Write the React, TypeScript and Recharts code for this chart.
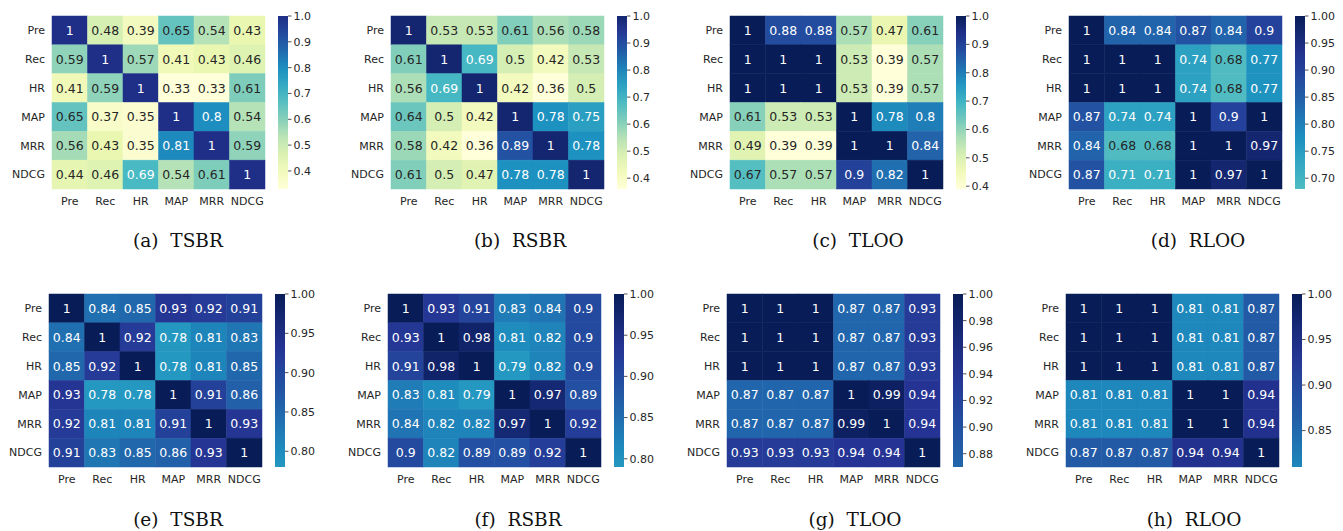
import React from 'react';
import { ScatterChart, Scatter, ComposedChart, XAxis, YAxis, ReferenceArea } from 'recharts';

const labels = ['Pre', 'Rec', 'HR', 'MAP', 'MRR', 'NDCG'];

// top row
const tsbrTop = [
  [1, 0.48, 0.39, 0.65, 0.54, 0.43],
  [0.59, 1, 0.57, 0.41, 0.43, 0.46],
  [0.41, 0.59, 1, 0.33, 0.33, 0.61],
  [0.65, 0.37, 0.35, 1, 0.8, 0.54],
  [0.56, 0.43, 0.35, 0.81, 1, 0.59],
  [0.44, 0.46, 0.69, 0.54, 0.61, 1],
];
const rsbrTop = [
  [1, 0.53, 0.53, 0.61, 0.56, 0.58],
  [0.61, 1, 0.69, 0.5, 0.42, 0.53],
  [0.56, 0.69, 1, 0.42, 0.36, 0.5],
  [0.64, 0.5, 0.42, 1, 0.78, 0.75],
  [0.58, 0.42, 0.36, 0.89, 1, 0.78],
  [0.61, 0.5, 0.47, 0.78, 0.78, 1],
];
const tlooTop = [
  [1, 0.88, 0.88, 0.57, 0.47, 0.61],
  [1, 1, 1, 0.53, 0.39, 0.57],
  [1, 1, 1, 0.53, 0.39, 0.57],
  [0.61, 0.53, 0.53, 1, 0.78, 0.8],
  [0.49, 0.39, 0.39, 1, 1, 0.84],
  [0.67, 0.57, 0.57, 0.9, 0.82, 1],
];
const rlooTop = [
  [1, 0.84, 0.84, 0.87, 0.84, 0.9],
  [1, 1, 1, 0.74, 0.68, 0.77],
  [1, 1, 1, 0.74, 0.68, 0.77],
  [0.87, 0.74, 0.74, 1, 0.9, 1],
  [0.84, 0.68, 0.68, 1, 1, 0.97],
  [0.87, 0.71, 0.71, 1, 0.97, 1],
];

// bottom row
const tsbrBottom = [
  [1, 0.84, 0.85, 0.93, 0.92, 0.91],
  [0.84, 1, 0.92, 0.78, 0.81, 0.83],
  [0.85, 0.92, 1, 0.78, 0.81, 0.85],
  [0.93, 0.78, 0.78, 1, 0.91, 0.86],
  [0.92, 0.81, 0.81, 0.91, 1, 0.93],
  [0.91, 0.83, 0.85, 0.86, 0.93, 1],
];
const rsbrBottom = [
  [1, 0.93, 0.91, 0.83, 0.84, 0.9],
  [0.93, 1, 0.98, 0.81, 0.82, 0.9],
  [0.91, 0.98, 1, 0.79, 0.82, 0.9],
  [0.83, 0.81, 0.79, 1, 0.97, 0.89],
  [0.84, 0.82, 0.82, 0.97, 1, 0.92],
  [0.9, 0.82, 0.89, 0.89, 0.92, 1],
];
const tlooBottom = [
  [1, 1, 1, 0.87, 0.87, 0.93],
  [1, 1, 1, 0.87, 0.87, 0.93],
  [1, 1, 1, 0.87, 0.87, 0.93],
  [0.87, 0.87, 0.87, 1, 0.99, 0.94],
  [0.87, 0.87, 0.87, 0.99, 1, 0.94],
  [0.93, 0.93, 0.93, 0.94, 0.94, 1],
];
const rlooBottom = [
  [1, 1, 1, 0.81, 0.81, 0.87],
  [1, 1, 1, 0.81, 0.81, 0.87],
  [1, 1, 1, 0.81, 0.81, 0.87],
  [0.81, 0.81, 0.81, 1, 1, 0.94],
  [0.81, 0.81, 0.81, 1, 1, 0.94],
  [0.87, 0.87, 0.87, 0.94, 0.94, 1],
];

const ticksA = [0.4, 0.5, 0.6, 0.7, 0.8, 0.9, 1.0];
const ticksD = [0.7, 0.75, 0.8, 0.85, 0.9, 0.95, 1.0];
const ticksEF = [0.8, 0.85, 0.9, 0.95, 1.0];
const ticksG = [0.88, 0.9, 0.92, 0.94, 0.96, 0.98, 1.0];
const ticksH = [0.85, 0.9, 0.95, 1.0];

const captions = ['(a)\u00a0\u00a0TSBR', '(b)\u00a0\u00a0RSBR', '(c)\u00a0\u00a0TLOO', '(d)\u00a0\u00a0RLOO', '(e)\u00a0\u00a0TSBR', '(f)\u00a0\u00a0RSBR', '(g)\u00a0\u00a0TLOO', '(h)\u00a0\u00a0RLOO'];

// YlGnBu
const cmap = ['#ffffd9', '#edf8b1', '#c7e9b4', '#7fcdbb', '#41b6c4', '#1d91c0', '#225ea8', '#253494', '#081d58'];

const hex = (h: string) => [1, 3, 5].map((i) => parseInt(h.slice(i, i + 2), 16));

function rgbAt(t: number) {
  const tt = Math.max(0, Math.min(1, t)) * (cmap.length - 1);
  const i = Math.min(cmap.length - 2, Math.floor(tt));
  const f = tt - i;
  const a = hex(cmap[i]);
  const b = hex(cmap[i + 1]);
  return a.map((v, k) => v + (b[k] - v) * f);
}

function ylgnbu(t: number) {
  const c = rgbAt(t).map(Math.round);
  return `rgb(${c[0]},${c[1]},${c[2]})`;
}

function textColor(t: number) {
  const lin = rgbAt(t).map((v) => {
    const s = v / 255;
    return s <= 0.03928 ? s / 12.92 : Math.pow((s + 0.055) / 1.055, 2.4);
  });
  const lum = 0.2126 * lin[0] + 0.7152 * lin[1] + 0.0722 * lin[2];
  return lum > 0.408 ? '#262626' : '#ffffff';
}

const GW = 213;
const GH = 173;
const CW = GW / 6;
const CH = GH / 6;

interface Panel {
  data: number[][];
  vmin: number;
  t0: number;
  t1: number;
  ticks: number[];
  digits: number;
  left: number;
  top: number;
  capX: number;
  capY: number;
}

const panels: Panel[] = [
  { data: tsbrTop, vmin: 0.33, t0: 0, t1: 0.9, ticks: ticksA, digits: 1, left: 52, top: 16, capX: 178, capY: 247 },
  { data: rsbrTop, vmin: 0.36, t0: 0, t1: 0.95, ticks: ticksA, digits: 1, left: 391, top: 16, capX: 520, capY: 247 },
  { data: tlooTop, vmin: 0.39, t0: 0, t1: 1, ticks: ticksA, digits: 1, left: 730, top: 16, capX: 858, capY: 247 },
  { data: rlooTop, vmin: 0.68, t0: 0.47, t1: 1, ticks: ticksD, digits: 2, left: 1069, top: 16, capX: 1198, capY: 247 },
  { data: tsbrBottom, vmin: 0.78, t0: 0.6, t1: 1, ticks: ticksEF, digits: 2, left: 49, top: 294, capX: 178, capY: 526 },
  { data: rsbrBottom, vmin: 0.79, t0: 0.6, t1: 1, ticks: ticksEF, digits: 2, left: 388, top: 294, capX: 518, capY: 526 },
  { data: tlooBottom, vmin: 0.87, t0: 0.73, t1: 1, ticks: ticksG, digits: 2, left: 727, top: 294, capX: 855, capY: 526 },
  { data: rlooBottom, vmin: 0.81, t0: 0.65, t1: 1, ticks: ticksH, digits: 2, left: 1066, top: 294, capX: 1194, capY: 526 },
];

const tPos = (v: number, p: Panel) => p.t0 + ((p.t1 - p.t0) * (v - p.vmin)) / (1 - p.vmin);

const tickStyle = { fontSize: 11, fill: '#262626', fontFamily: 'DejaVu Sans' };
const pos = [0.5, 1.5, 2.5, 3.5, 4.5, 5.5];

const Heatmap: React.FC<{ p: Panel; idx: number }> = ({ p, idx }) => {
  const cells = p.data.flatMap((row, r) => row.map((v, c) => ({ x: c + 0.5, y: r + 0.5, v })));
  const shape = (s: any) => {
    const t = tPos(s.payload.v, p);
    const fill = ylgnbu(t);
    return (
      <g>
        <rect x={s.cx - CW / 2} y={s.cy - CH / 2} width={CW} height={CH} fill={fill} stroke={fill} strokeWidth={0.5} />
        <text x={s.cx} y={s.cy} dy="0.36em" textAnchor="middle" fontSize={12.5} fontFamily="DejaVu Sans" fill={textColor(t)}>
          {String(s.payload.v)}
        </text>
      </g>
    );
  };
  const gradId = `cb${idx}`;
  const stops = Array.from({ length: 11 }, (_, k) => k / 10);
  return (
    <>
      <div style={{ position: 'absolute', left: p.left - 50, top: p.top - 4 }}>
        <ScatterChart width={50 + GW + 4} height={4 + GH + 30} margin={{ top: 4, right: 4, bottom: 0, left: 0 }}>
          <XAxis type="number" dataKey="x" domain={[0, 6]} ticks={pos} interval={0} tickFormatter={(v: number) => labels[Math.floor(v)]} axisLine={false} tickLine={false} tickSize={6} tickMargin={2} tick={tickStyle} height={30} />
          <YAxis type="number" dataKey="y" domain={[0, 6]} reversed ticks={pos} interval={0} tickFormatter={(v: number) => labels[Math.floor(v)]} axisLine={false} tickLine={false} tickSize={5} tickMargin={2} tick={tickStyle} width={50} />
          <Scatter data={cells} shape={shape} isAnimationActive={false} />
        </ScatterChart>
      </div>
      <div style={{ position: 'absolute', left: p.left + GW + 13, top: p.top - 10 }}>
        <ComposedChart width={50} height={GH + 20} margin={{ top: 10, right: 0, bottom: 10, left: 0 }} data={[{ x: 0.5, y: p.vmin }]}>
          <defs>
            <linearGradient id={gradId} x1="0" y1="0" x2="0" y2="1">
              {stops.map((s) => (
                <stop key={s} offset={s} stopColor={ylgnbu(p.t1 - (p.t1 - p.t0) * s)} />
              ))}
            </linearGradient>
          </defs>
          <XAxis type="number" dataKey="x" domain={[0, 1]} hide />
          <YAxis type="number" dataKey="y" orientation="right" domain={[p.vmin, 1]} ticks={p.ticks} interval={0} tickFormatter={(v: number) => v.toFixed(p.digits)} axisLine={false} tickSize={3.5} tickMargin={2} tickLine={{ stroke: '#262626', strokeWidth: 0.8 }} tick={tickStyle} width={40} allowDataOverflow />
          <ReferenceArea x1={0} x2={1} y1={p.vmin} y2={1} fill={`url(#${gradId})`} fillOpacity={1} stroke="none" />
        </ComposedChart>
      </div>
    </>
  );
};

export default function App() {
  return (
    <div style={{ position: 'absolute', left: 0, top: 0, width: 1343, height: 531, background: '#fff', overflow: 'hidden' }}>
      {panels.map((p, i) => (
        <Heatmap key={i} p={p} idx={i} />
      ))}
      <svg width={1343} height={531} style={{ position: 'absolute', left: 0, top: 0, pointerEvents: 'none' }}>
        {panels.map((p, i) => (
          <text key={i} x={p.capX} y={p.capY} textAnchor="middle" fontSize={18.5} fontFamily="DejaVu Serif" fill="#111">
            {captions[i]}
          </text>
        ))}
      </svg>
    </div>
  );
}
